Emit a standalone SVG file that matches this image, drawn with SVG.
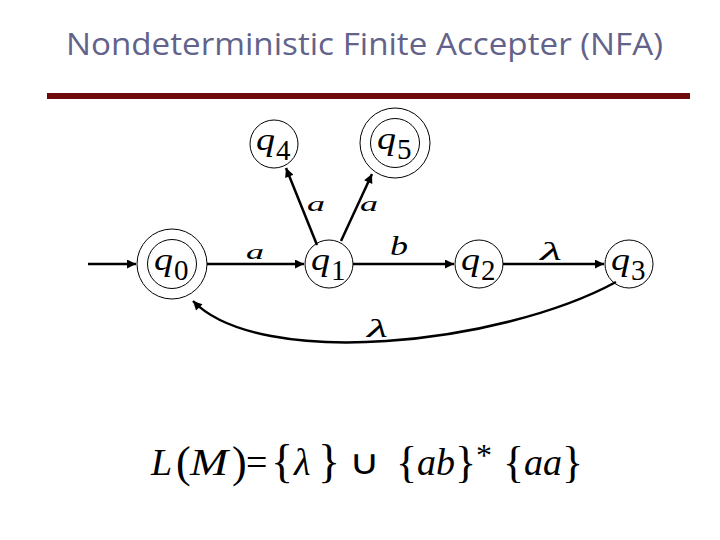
<svg xmlns="http://www.w3.org/2000/svg" width="720" height="540" viewBox="0 0 720 540">
<style>
.c{fill:none;stroke:#000;stroke-width:1}
.e{fill:none;stroke:#000;stroke-width:2.5}
.q{font-family:"Liberation Serif",serif;font-size:32px;font-style:italic;fill:#000}
.d{font-family:"Liberation Serif",serif;font-size:29px;fill:#000}
.l{font-family:"Liberation Serif",serif;font-style:italic;fill:#000}
.f{font-family:"Liberation Serif",serif;fill:#000}
</style>
<defs>
<marker id="ah" viewBox="0 0 10 10" refX="10" refY="5" markerWidth="4.4" markerHeight="3.6" markerUnits="strokeWidth" orient="auto">
<path d="M0,0 L10,5 L0,10 Z" fill="#000"/>
</marker>
</defs>
<rect width="720" height="540" fill="#fff"/>
<text x="66" y="55" font-family="'Open Sans',sans-serif" font-size="31" fill="#62628a" textLength="597" lengthAdjust="spacingAndGlyphs">Nondeterministic Finite Accepter (NFA)</text>
<rect x="47" y="93" width="643" height="6" fill="#6e0a0a"/>

<g id="edges">
<line class="e" x1="88" y1="264" x2="136" y2="264" marker-end="url(#ah)"/>
<line class="e" x1="207" y1="264" x2="304" y2="264" marker-end="url(#ah)"/>
<line class="e" x1="317" y1="245" x2="286" y2="168" marker-end="url(#ah)"/>
<line class="e" x1="341" y1="241" x2="372" y2="174" marker-end="url(#ah)"/>
<line class="e" x1="353" y1="264" x2="454" y2="264" marker-end="url(#ah)"/>
<line class="e" x1="503" y1="264" x2="604" y2="264" marker-end="url(#ah)"/>
<path class="e" d="M616,282 C500,345 260,370 193,301" marker-end="url(#ah)"/>
<text class="l" x="246" y="259" font-size="20" textLength="18" lengthAdjust="spacingAndGlyphs">a</text>
<text class="l" x="307" y="211" font-size="20" textLength="18" lengthAdjust="spacingAndGlyphs">a</text>
<text class="l" x="360" y="211" font-size="20" textLength="18" lengthAdjust="spacingAndGlyphs">a</text>
<text class="l" x="390" y="255" font-size="28" textLength="18" lengthAdjust="spacingAndGlyphs">b</text>
<text class="l" x="540" y="260" font-size="26" textLength="22" lengthAdjust="spacingAndGlyphs">λ</text>
<text class="l" x="367" y="337" font-size="26" textLength="21" lengthAdjust="spacingAndGlyphs">λ</text>
</g>

<g id="q0">
<circle class="c" cx="172" cy="264" r="35"/>
<circle class="c" cx="172" cy="264" r="24.5"/>
<text class="q" x="154" y="270" textLength="19" lengthAdjust="spacingAndGlyphs">q</text>
<text class="d" x="174" y="280">0</text>
</g>
<g id="q1">
<circle class="c" cx="329" cy="264" r="24"/>
<text class="q" x="311" y="270" textLength="19" lengthAdjust="spacingAndGlyphs">q</text>
<text class="d" x="331" y="280">1</text>
</g>
<g id="q2">
<circle class="c" cx="479" cy="264" r="24"/>
<text class="q" x="461" y="270" textLength="19" lengthAdjust="spacingAndGlyphs">q</text>
<text class="d" x="481" y="280">2</text>
</g>
<g id="q3">
<circle class="c" cx="629" cy="264" r="24"/>
<text class="q" x="611" y="270" textLength="19" lengthAdjust="spacingAndGlyphs">q</text>
<text class="d" x="631" y="280">3</text>
</g>
<g id="q4">
<circle class="c" cx="274" cy="144" r="24"/>
<text class="q" x="256" y="150" textLength="19" lengthAdjust="spacingAndGlyphs">q</text>
<text class="d" x="276" y="160">4</text>
</g>
<g id="q5">
<circle class="c" cx="395" cy="143" r="35"/>
<circle class="c" cx="395" cy="143" r="24.5"/>
<text class="q" x="377" y="149" textLength="19" lengthAdjust="spacingAndGlyphs">q</text>
<text class="d" x="397" y="159">5</text>
</g>

<g id="formula">
<text class="l" x="151" y="475" font-size="38">L</text>
<text class="f" x="176" y="477" font-size="44">(</text>
<text class="l" x="190" y="475" font-size="38" textLength="38" lengthAdjust="spacingAndGlyphs">M</text>
<text class="f" x="232" y="477" font-size="44">)</text>
<text class="f" x="246" y="475" font-size="38">=</text>
<text class="f" x="271" y="477" font-size="46">{</text>
<text class="l" x="294" y="475" font-size="38">λ</text>
<text class="f" x="318" y="477" font-size="46">}</text>
<text class="f" x="349" y="474" font-size="34" textLength="31" lengthAdjust="spacingAndGlyphs">∪</text>
<text class="f" x="396" y="477" font-size="44">{</text>
<text class="l" x="417" y="475" font-size="38">ab</text>
<text class="f" x="455" y="477" font-size="44">}</text>
<text class="f" x="476" y="466" font-size="32">*</text>
<text class="f" x="503" y="477" font-size="44">{</text>
<text class="l" x="524" y="475" font-size="38">aa</text>
<text class="f" x="562" y="477" font-size="44">}</text>
</g>
</svg>
